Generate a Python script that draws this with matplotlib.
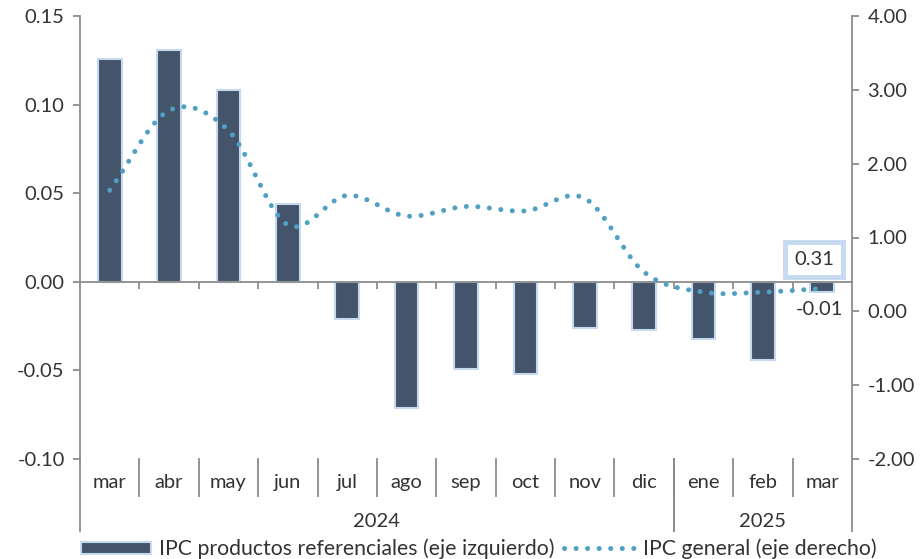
import numpy as np
import matplotlib.pyplot as plt
from matplotlib.lines import Line2D
from matplotlib.patches import Patch

plt.rcParams['font.family'] = ['Lato', 'DejaVu Sans']

# datos
meses = ['mar', 'abr', 'may', 'jun', 'jul', 'ago', 'sep', 'oct', 'nov', 'dic', 'ene', 'feb', 'mar']
anios = ['2024', '2025']
meses_por_anio = [10, 3]
ipc_ref = [0.126, 0.131, 0.108, 0.044, -0.021, -0.071, -0.049, -0.052, -0.026, -0.027, -0.032, -0.044, -0.006]
ipc_gen = [1.64, 2.72, 2.45, 1.17, 1.57, 1.29, 1.42, 1.36, 1.53, 0.53, 0.26, 0.26, 0.31]

barra = '#44546A'
borde = '#C5D9F1'
linea = '#4FA0C2'
gris = '#8C8C8C'
texto = '#333333'

fig = plt.figure(figsize=(9.24, 5.59), dpi=100)
ax = fig.add_axes([80 / 924, 100 / 559, 772 / 924, 443 / 559])
ax2 = ax.twinx()

x = np.arange(len(meses))
ax.bar(x, ipc_ref, width=0.4, color=barra, edgecolor=borde, linewidth=1.5, zorder=2)


# curva suavizada (tipo Excel, Catmull-Rom)
def suavizar(xs, ys, n=20):
    xs = np.asarray(xs, float)
    ys = np.asarray(ys, float)
    px = np.concatenate([[2 * xs[0] - xs[1]], xs, [2 * xs[-1] - xs[-2]]])
    py = np.concatenate([[2 * ys[0] - ys[1]], ys, [2 * ys[-1] - ys[-2]]])
    ox, oy = [], []
    for i in range(1, len(px) - 2):
        t = np.linspace(0, 1, n, endpoint=False)
        for arr, out in ((px, ox), (py, oy)):
            p0, p1, p2, p3 = arr[i - 1], arr[i], arr[i + 1], arr[i + 2]
            out.extend(0.5 * ((2 * p1) + (-p0 + p2) * t
                              + (2 * p0 - 5 * p1 + 4 * p2 - p3) * t ** 2
                              + (-p0 + 3 * p1 - 3 * p2 + p3) * t ** 3))
    ox.append(xs[-1])
    oy.append(ys[-1])
    return ox, oy


punteado = (0, (0.01, 2.3))
sx, sy = suavizar(x, ipc_gen)
ax2.plot(sx, sy, color=linea, lw=3.6, linestyle=punteado,
         dash_capstyle='round', zorder=3)

ax.set_xlim(-0.5, len(meses) - 0.5)
ax.set_ylim(-0.10, 0.15)
ax2.set_ylim(-2, 4)
ax.set_yticks(np.arange(-0.10, 0.151, 0.05))
ax.set_yticklabels([f'{v:.2f}' for v in np.arange(-0.10, 0.151, 0.05)])
ax2.set_yticks(np.arange(-2, 4.01, 1))
ax2.set_yticklabels([f'{v:.2f}' for v in np.arange(-2, 4.01, 1)])

for a in (ax, ax2):
    a.spines['top'].set_visible(False)
    for s in ('left', 'right', 'bottom'):
        a.spines[s].set_color(gris)
        a.spines[s].set_linewidth(1.3)
    a.tick_params(axis='y', colors=gris, labelcolor=texto, labelsize=14.5, length=5, width=1.3, pad=6)
ax2.spines['bottom'].set_visible(False)
ax2.spines['left'].set_visible(False)
ax.spines['right'].set_visible(False)

# eje x en cero con marcas entre meses
ax.spines['bottom'].set_position(('data', 0))
ax.set_xticks(np.arange(0.5, len(meses) - 1, 1))
ax.set_xticklabels([])
ax.tick_params(axis='x', direction='out', length=5, width=1.3, colors=gris)

# etiquetas de categoría abajo
for i, m in enumerate(meses):
    ax.text(i, -0.054, m, transform=ax.get_xaxis_transform(), ha='center', va='center',
            fontsize=14.5, color=texto)
for b in np.arange(0.5, len(meses) - 1, 1):
    ax.add_line(Line2D([b, b], [0, -0.083], transform=ax.get_xaxis_transform(),
                       color=gris, lw=1.3, clip_on=False))
inicio = -0.5
for anio, n in zip(anios, meses_por_anio):
    fin = inicio + n
    ax.text((inicio + fin) / 2, -0.14, anio, transform=ax.get_xaxis_transform(),
            ha='center', va='center', fontsize=14.5, color=texto)
    for b in (inicio, fin):
        ax.add_line(Line2D([b, b], [0, -0.162], transform=ax.get_xaxis_transform(),
                           color=gris, lw=1.3, clip_on=False))
    inicio = fin

# etiquetas de datos
ax2.annotate(f'{ipc_gen[-1]:.2f}', (x[-1], ipc_gen[-1]), xytext=(-6, 21), textcoords='offset points',
             ha='center', va='center', fontsize=14.5, color=texto,
             bbox=dict(boxstyle='square,pad=0.45', fc='white', ec=borde, lw=3.5))
ax.annotate(f'{ipc_ref[-1]:.2f}', (x[-1], ipc_ref[-1]), xytext=(-2, -12.5), textcoords='offset points',
            ha='center', va='center', fontsize=14.5, color=texto)

# leyenda
handles = [Patch(facecolor=barra, edgecolor=borde, linewidth=1.5),
           Line2D([0], [0], color=linea, lw=3.6, linestyle=punteado, dash_capstyle='round')]
fig.legend(handles, ['IPC productos referenciales (eje izquierdo)', 'IPC general (eje derecho)'],
           loc='center', bbox_to_anchor=(0.518, 0.018), ncol=2, frameon=False, fontsize=15.3,
           handlelength=3.3, handleheight=0.5, columnspacing=0.45, handletextpad=0.4,
           labelcolor=texto, borderaxespad=0)

fig.savefig('out.png', dpi=100)
